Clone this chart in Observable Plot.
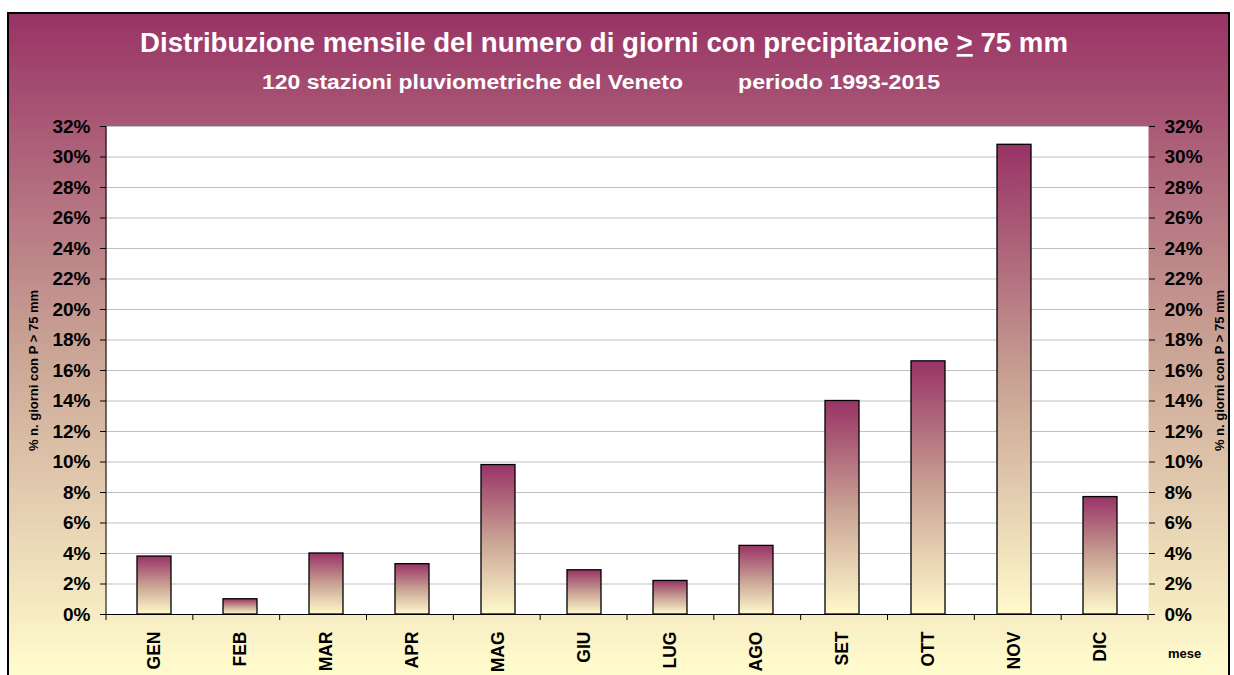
<!DOCTYPE html>
<html><head><meta charset="utf-8">
<script src="https://cdn.jsdelivr.net/npm/d3@7"></script>
<script src="https://cdn.jsdelivr.net/npm/@observablehq/plot@0.6"></script>
<style>
body{margin:0;background:#fff;}
#wrap{position:relative;width:1234px;height:675px;overflow:hidden;font-family:"Liberation Sans",Arial,sans-serif;}
#frame{position:absolute;left:7px;top:12px;width:1219px;height:720px;border:2px solid #000;
  background:linear-gradient(to bottom,#993366 0px,#c9a294 330px,#fffacc 650px);}
#titles{position:absolute;left:0;top:0;}
#chart{position:absolute;left:0;top:0;}
#chart g[aria-label="x-axis tick label"], #chart g[aria-label="x-axis tick label"] text{font-size:17.5px;}
</style></head>
<body>
<div id="wrap">
  <div id="frame"></div>
  <svg id="titles" width="1234" height="110" font-family="Liberation Sans, Arial, sans-serif" font-weight="bold" fill="#fff">
    <text x="140" y="52" font-size="27" textLength="928" lengthAdjust="spacingAndGlyphs">Distribuzione mensile del numero di giorni con precipitazione <tspan text-decoration="underline">&gt;</tspan> 75 mm</text>
    <text x="262" y="89" font-size="20" textLength="421" lengthAdjust="spacingAndGlyphs">120 stazioni pluviometriche del Veneto</text>
    <text x="738" y="89" font-size="20" textLength="202" lengthAdjust="spacingAndGlyphs">periodo 1993-2015</text>
  </svg>
  <div id="chart"></div>
</div>
<script>
const months = ["GEN","FEB","MAR","APR","MAG","GIU","LUG","AGO","SET","OTT","NOV","DIC"];
const values = [3.8, 1.0, 4.0, 3.3, 9.8, 2.9, 2.2, 4.5, 14.0, 16.6, 30.8, 7.7];
const yTicks = [0,2,4,6,8,10,12,14,16,18,20,22,24,26,28,30,32];
const yLabel = "% n. giorni con P > 75 mm";
const xLabel = "mese";

const data = months.map((m, i) => ({month: m, value: values[i]}));

function gradientDefs() {
  const defs = d3.create("svg:defs");
  const lg = defs.append("linearGradient").attr("id", "bargrad")
    .attr("x1", 0).attr("y1", 0).attr("x2", 0).attr("y2", 1);
  lg.append("stop").attr("offset", "0%").attr("stop-color", "#993366");
  lg.append("stop").attr("offset", "50%").attr("stop-color", "#c8a193");
  lg.append("stop").attr("offset", "100%").attr("stop-color", "#fffacc");
  return defs.node();
}

function axisLines(index, scales, values, dims) {
  const {width, marginLeft, marginRight} = dims;
  const step = (width - marginLeft - marginRight) / months.length;
  const y0 = scales.y(0), yTop = scales.y(32);
  const g = d3.create("svg:g").attr("stroke", "black").attr("fill", "none");
  g.append("line").attr("x1", marginLeft).attr("x2", marginLeft).attr("y1", yTop).attr("y2", y0);
  for (let i = 0; i <= months.length; i++) {
    const x = marginLeft + i * step;
    g.append("line").attr("x1", x).attr("x2", x).attr("y1", y0).attr("y2", y0 + 6);
  }
  return g.node();
}

const chart = Plot.plot({
  width: 1234,
  height: 675,
  marginLeft: 106,
  marginRight: 86,
  marginTop: 126,
  marginBottom: 61,
  style: {background: "transparent", fontFamily: "Liberation Sans, Arial, sans-serif", fontWeight: "bold", fontSize: "19px", color: "black", overflow: "visible"},
  x: {domain: months, paddingInner: 0.6, paddingOuter: 0.3, tickSize: 0, tickPadding: 17, tickRotate: -90, label: null},
  y: {domain: [0, 32], ticks: yTicks, tickFormat: d => d + "%", axis: "both", tickSize: 6, tickPadding: 10, label: null},
  marks: [
    gradientDefs,
    Plot.frame({fill: "white", stroke: "none"}),
    Plot.ruleY(yTicks, {stroke: "#c0c0c0", strokeWidth: 1.2}),
    Plot.barY(data, {x: "month", y: "value", fill: "url(#bargrad)", stroke: "black", strokeWidth: 1.3}),
    Plot.ruleY([0], {stroke: "black", strokeWidth: 1.2}),
    axisLines,
    Plot.text([yLabel], {frameAnchor: "left", dx: -73, rotate: -90, textAnchor: "middle", fontSize: 13, fontWeight: "bold"}),
    Plot.text([yLabel], {frameAnchor: "right", dx: 71, rotate: -90, textAnchor: "middle", fontSize: 13, fontWeight: "bold"}),
    Plot.text([xLabel], {frameAnchor: "bottom-right", dx: 36, dy: 43, textAnchor: "middle", fontSize: 13, fontWeight: "bold"})
  ]
});
document.getElementById("chart").appendChild(chart);
</script>
</body></html>
